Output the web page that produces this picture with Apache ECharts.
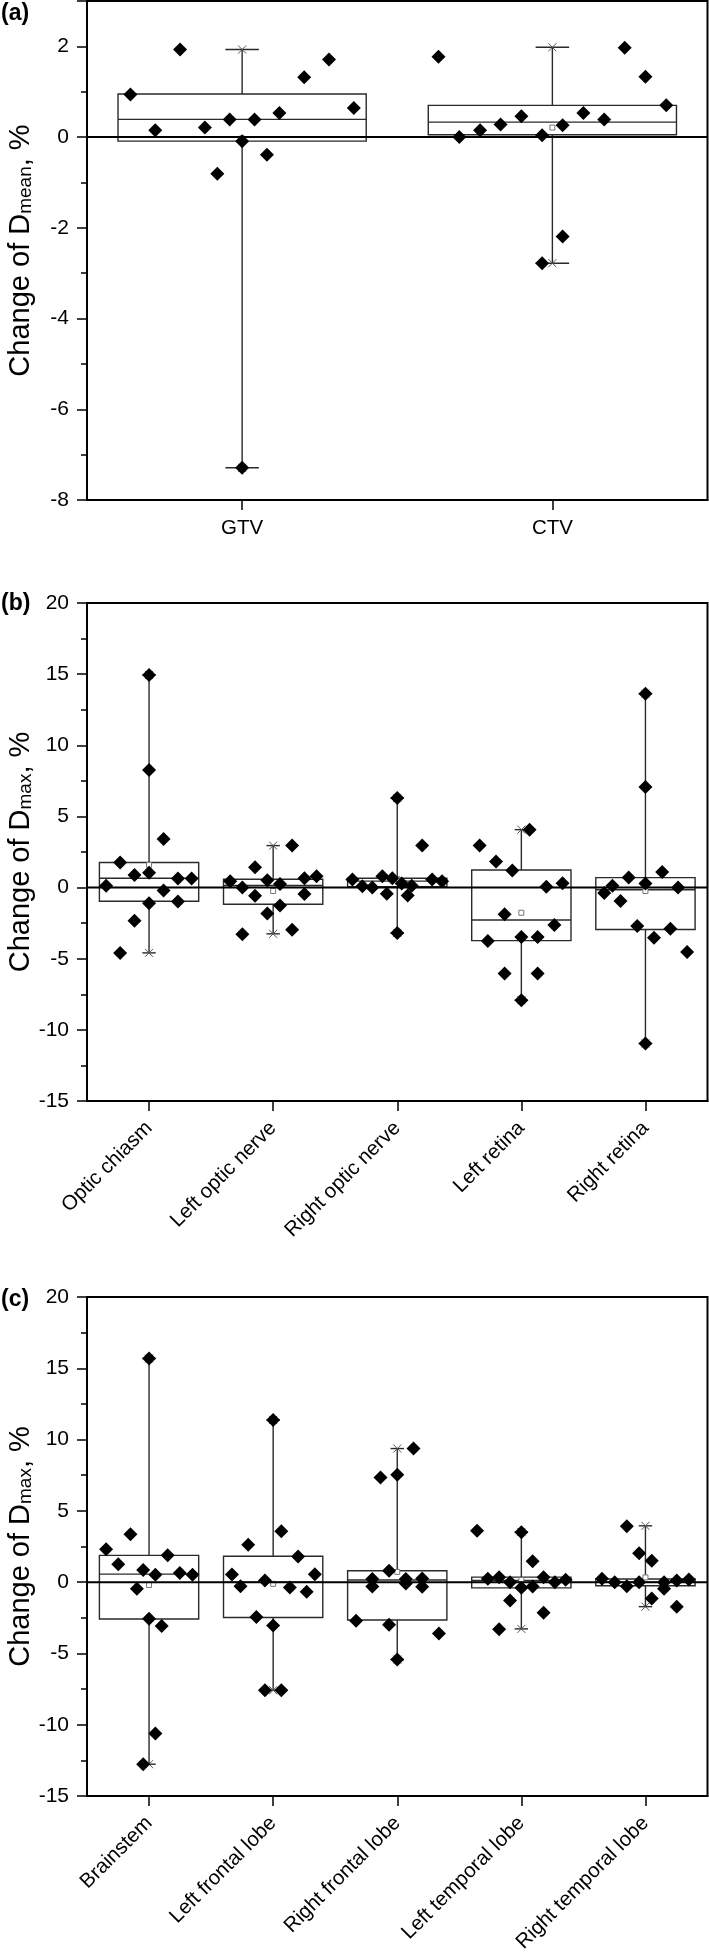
<!DOCTYPE html>
<html><head><meta charset="utf-8">
<script src="https://cdn.jsdelivr.net/npm/echarts@6/dist/echarts.min.js"></script>
<style>html,body{margin:0;padding:0;background:#fff}#c{width:709px;height:1953px}</style>
</head><body><div id="c"></div>
<script>
// ---------- Panel (a) ----------
const catsA = ['GTV', 'CTV'];
const valsA = [
  [0.94, 0.15, 1.93, 0.21, -0.81, 0.39, -0.09, -7.29, 0.39, -0.39, 0.53, 1.32, 1.71, 0.64],
  [1.77, 0.00, 0.15, 0.28, 0.46, 0.04, -2.78, 0.26, -2.19, 0.53, 0.39, 1.97, 1.33, 0.70]
];
const jitA = [
  [-0.36, -0.28, -0.20, -0.12, -0.08, -0.04, 0, 0, 0.04, 0.08, 0.12, 0.20, 0.28, 0.36],
  [-0.367, -0.30, -0.233, -0.167, -0.10, -0.033, -0.033, 0.033, 0.033, 0.10, 0.167, 0.233, 0.30, 0.367]
];
const q1A = [-0.09, 0.05];
const medA = [0.39, 0.33];
const q3A = [0.95, 0.70];
const meanA = [-0.03, 0.21];
const loA = [-7.29, -2.78];
const hiA = [1.93, 1.98];

// ---------- Panel (b) ----------
const catsB = ['Optic chiasm', 'Left optic nerve', 'Right optic nerve', 'Left retina', 'Right retina'];
const valsB = [
  [0.12, 1.76, -4.59, 0.88, -2.34, 14.94, 8.27, 1.05, -1.10, 3.42, -0.21, 0.63, -0.98, 0.64],
  [0.44, 0.00, -3.28, 1.43, -0.58, 0.52, -1.83, 0.25, -1.26, 2.95, -2.97, 0.66, -0.45, 0.79],
  [0.56, 0.10, 0.00, 0.79, -0.44, 0.65, 6.30, -3.19, 0.28, -0.56, 0.12, 2.95, 0.56, 0.44],
  [2.95, -3.75, 1.84, -1.88, -6.04, 1.20, -3.47, -7.92, 4.07, -3.47, -6.04, 0.06, -2.63, 0.31],
  [-0.38, 0.12, -0.94, 0.71, -2.70, 13.63, 7.07, 0.28, -10.96, -3.52, 1.10, -2.90, 0.00, -4.52]
];
const jitB = [
  [-0.346, -0.233, -0.233, -0.117, -0.117, 0, 0, 0, 0, 0.117, 0.117, 0.233, 0.233, 0.343],
  [-0.346, -0.248, -0.248, -0.146, -0.146, -0.047, -0.047, 0.055, 0.055, 0.153, 0.153, 0.252, 0.252, 0.350],
  [-0.361, -0.281, -0.201, -0.120, -0.084, -0.040, 0, 0, 0.036, 0.084, 0.117, 0.201, 0.281, 0.361],
  [-0.336, -0.270, -0.204, -0.135, -0.135, -0.073, 0, 0, 0.066, 0.131, 0.131, 0.201, 0.266, 0.332],
  [-0.332, -0.266, -0.201, -0.135, -0.066, 0, 0, 0, 0, 0.069, 0.135, 0.201, 0.263, 0.336]
];
const q1B = [-0.96, -1.17, 0.07, -3.73, -2.95];
const medB = [0.65, 0.15, 0.45, -2.28, -0.15];
const q3B = [1.76, 0.58, 0.65, 1.24, 0.70];
const meanB = [1.60, -0.24, 0.61, -1.77, -0.24];
const loB = [-4.59, -3.25, -3.19, -7.92, -10.96];
const hiB = [14.94, 2.95, 6.30, 4.07, 13.63];

// ---------- Panel (c) ----------
const catsC = ['Brainstem', 'Left frontal lobe', 'Right frontal lobe', 'Left temporal lobe', 'Right temporal lobe'];
const valsC = [
  [2.31, 1.26, 3.36, -0.47, 0.86, -12.77, 15.69, -2.56, 0.51, -10.61, -3.08, 1.88, 0.65, 0.51],
  [0.54, -0.28, 2.63, -2.45, 0.12, -7.58, 11.38, -3.04, 3.57, -7.58, -0.38, 1.79, -0.68, 0.56],
  [-2.71, 0.22, -0.30, 7.34, 0.80, -2.98, 7.53, -5.43, 0.22, -0.10, 9.37, 0.25, -0.32, -3.61],
  [3.61, 0.23, 0.35, -3.31, 0.00, -1.28, 3.50, -0.40, 1.47, -0.30, 0.35, -2.15, 0.00, 0.16],
  [0.23, 0.00, 3.92, -0.28, 2.03, 0.00, 1.50, -1.15, 0.00, -0.47, 0.12, -1.72, 0.19]
];
const jitC = [
  [-0.346, -0.248, -0.150, -0.098, -0.047, -0.047, 0, 0, 0.051, 0.051, 0.102, 0.150, 0.248, 0.350],
  [-0.332, -0.263, -0.201, -0.135, -0.066, -0.066, 0, 0, 0.066, 0.066, 0.135, 0.201, 0.270, 0.336],
  [-0.332, -0.201, -0.201, -0.135, -0.066, -0.066, 0, 0, 0.069, 0.069, 0.131, 0.201, 0.201, 0.336],
  [-0.357, -0.270, -0.179, -0.179, -0.091, -0.091, 0, 0, 0.091, 0.091, 0.179, 0.179, 0.270, 0.357],
  [-0.350, -0.248, -0.150, -0.150, -0.051, -0.051, 0.051, 0.051, 0.150, 0.150, 0.252, 0.252, 0.350]
];
const q1C = [-2.58, -2.48, -2.66, -0.40, -0.25];
const medC = [0.56, 0.00, 0.15, 0.12, 0.00];
const q3C = [1.88, 1.82, 0.80, 0.35, 0.22];
const meanC = [-0.20, -0.12, 0.72, 0.15, 0.33];
const loC = [-12.77, -7.58, -5.43, -3.28, -1.72];
const hiC = [15.69, 11.38, 9.37, 3.52, 3.95];

// ---------- Axis settings ----------
const yTicksA = {min: -8, max: 3, interval: 2};
const yTicksBC = {min: -15, max: 20, interval: 5};

const FONT = "'Liberation Sans', Arial, Helvetica, sans-serif";

const panels = [
  {cats: catsA, vals: valsA, jit: jitA, q1: q1A, med: medA, q3: q3A, mean: meanA, lo: loA, hi: hiA,
   top: 1, height: 499, ticks: yTicksA, sub: 'mean', rotate: 0, letter: '(a)', letterTop: 2, hideMax: true},
  {cats: catsB, vals: valsB, jit: jitB, q1: q1B, med: medB, q3: q3B, mean: meanB, lo: loB, hi: hiB,
   top: 603, height: 498, ticks: yTicksBC, sub: 'max', rotate: 45, letter: '(b)', letterTop: 592, hideMax: false},
  {cats: catsC, vals: valsC, jit: jitC, q1: q1C, med: medC, q3: q3C, mean: meanC, lo: loC, hi: hiC,
   top: 1297, height: 499, ticks: yTicksBC, sub: 'max', rotate: 45, letter: '(c)', letterTop: 1288, hideMax: false}
];

function boxRender(params, api) {
  const i = api.value(0);
  const w = api.size([1, 0])[0];
  const half = w * 0.4, cap = w * 0.054, xm = 4;
  const c = v => api.coord([i, v]);
  const pQ1 = c(api.value(1)), pMed = c(api.value(2)), pQ3 = c(api.value(3));
  const pMean = c(api.value(4)), pLo = c(api.value(5)), pHi = c(api.value(6));
  const x = pQ1[0];
  const ls = {stroke: '#2a2a2a', lineWidth: 1.4};
  const star = p => [
    {type: 'line', shape: {x1: x - cap, y1: p[1], x2: x + cap, y2: p[1]}, style: ls},
    {type: 'line', shape: {x1: x - xm, y1: p[1] - xm, x2: x + xm, y2: p[1] + xm}, style: {stroke: '#555', lineWidth: 1}},
    {type: 'line', shape: {x1: x - xm, y1: p[1] + xm, x2: x + xm, y2: p[1] - xm}, style: {stroke: '#555', lineWidth: 1}}
  ];
  return {type: 'group', children: [
    {type: 'line', shape: {x1: x, y1: pQ3[1], x2: x, y2: pHi[1]}, style: ls},
    {type: 'line', shape: {x1: x, y1: pQ1[1], x2: x, y2: pLo[1]}, style: ls},
    ...star(pHi), ...star(pLo),
    {type: 'rect', shape: {x: x - half, y: pQ3[1], width: 2 * half, height: pQ1[1] - pQ3[1]},
     style: {fill: '#fff', stroke: '#2a2a2a', lineWidth: 1.4}},
    {type: 'line', shape: {x1: x - half, y1: pMed[1], x2: x + half, y2: pMed[1]}, style: ls},
    {type: 'rect', shape: {x: pMean[0] - 2.5, y: pMean[1] - 2.5, width: 5, height: 5},
     style: {fill: '#fff', stroke: '#777', lineWidth: 1}}
  ]};
}

const option = {
  animation: false,
  backgroundColor: '#fff',
  title: [], grid: [], xAxis: [], yAxis: [], series: []
};

panels.forEach((P, p) => {
  const N = P.cats.length;
  option.title.push({text: P.letter, left: 1, top: P.letterTop, padding: 0,
    textStyle: {fontSize: 23, fontWeight: 'bold', fontFamily: FONT, color: '#000'}});
  option.grid.push({left: 87, right: 1.5, top: P.top, height: P.height, show: true,
    borderColor: '#000', borderWidth: 2, backgroundColor: 'transparent', containLabel: false, outerBoundsMode: 'none'});
  option.xAxis.push({type: 'category', gridIndex: p, data: P.cats, boundaryGap: true,
    axisLine: {show: true, onZero: false, lineStyle: {color: '#000', width: 2}},
    axisTick: {show: true, alignWithLabel: true, length: 10, lineStyle: {color: '#000', width: 1.5}},
    axisLabel: {color: '#000', fontSize: 20.5, fontFamily: FONT, rotate: P.rotate, interval: 0,
      margin: P.rotate ? 24 : 18, hideOverlap: false},
    splitLine: {show: false}});
  option.xAxis.push({type: 'value', gridIndex: p, min: -0.5, max: N - 0.5, show: false,
    axisLine: {onZero: false}});
  option.yAxis.push({type: 'value', gridIndex: p, min: P.ticks.min, max: P.ticks.max, interval: P.ticks.interval,
    axisLine: {show: true, onZero: false, lineStyle: {color: '#000', width: 2}},
    axisTick: {show: true, length: 10, lineStyle: {color: '#000', width: 1.5}},
    minorTick: {show: true, splitNumber: 2, length: 6, lineStyle: {color: '#000', width: 1.5}},
    axisLabel: {color: '#000', fontSize: 21, fontFamily: FONT, margin: 18, showMaxLabel: !P.hideMax},
    splitLine: {show: false}, minorSplitLine: {show: false},
    name: '{a|Change of D}{b|' + P.sub + '}{a|, %}',
    nameLocation: 'middle', nameGap: 52, nameMoveOverlap: false,
    nameTextStyle: {rich: {
      a: {fontSize: 29, fontFamily: FONT, color: '#000', lineHeight: 35, verticalAlign: 'bottom'},
      b: {fontSize: 19, fontFamily: FONT, color: '#000', lineHeight: 19, verticalAlign: 'bottom'}
    }}});
  option.series.push({type: 'custom', xAxisIndex: 2 * p + 1, yAxisIndex: p, z: 1, silent: true,
    renderItem: boxRender,
    encode: {x: 0, y: [1, 2, 3, 4, 5, 6]},
    data: P.cats.map((_, i) => [i, P.q1[i], P.med[i], P.q3[i], P.mean[i], P.lo[i], P.hi[i]])});
  option.series.push({type: 'line', xAxisIndex: 2 * p + 1, yAxisIndex: p, z: 2, silent: true,
    symbol: 'none', lineStyle: {color: '#000', width: 2},
    data: [[-0.5, 0], [N - 0.5, 0]]});
  option.series.push({type: 'scatter', xAxisIndex: 2 * p + 1, yAxisIndex: p, z: 3, silent: true,
    symbol: 'diamond', symbolSize: 14, itemStyle: {color: '#000', opacity: 1},
    data: P.vals.flatMap((arr, i) => arr.map((v, k) => [i + P.jit[i][k], v]))});
});

const chart = echarts.init(document.getElementById('c'), null, {renderer: 'canvas'});
chart.setOption(option);
</script>
</body></html>
